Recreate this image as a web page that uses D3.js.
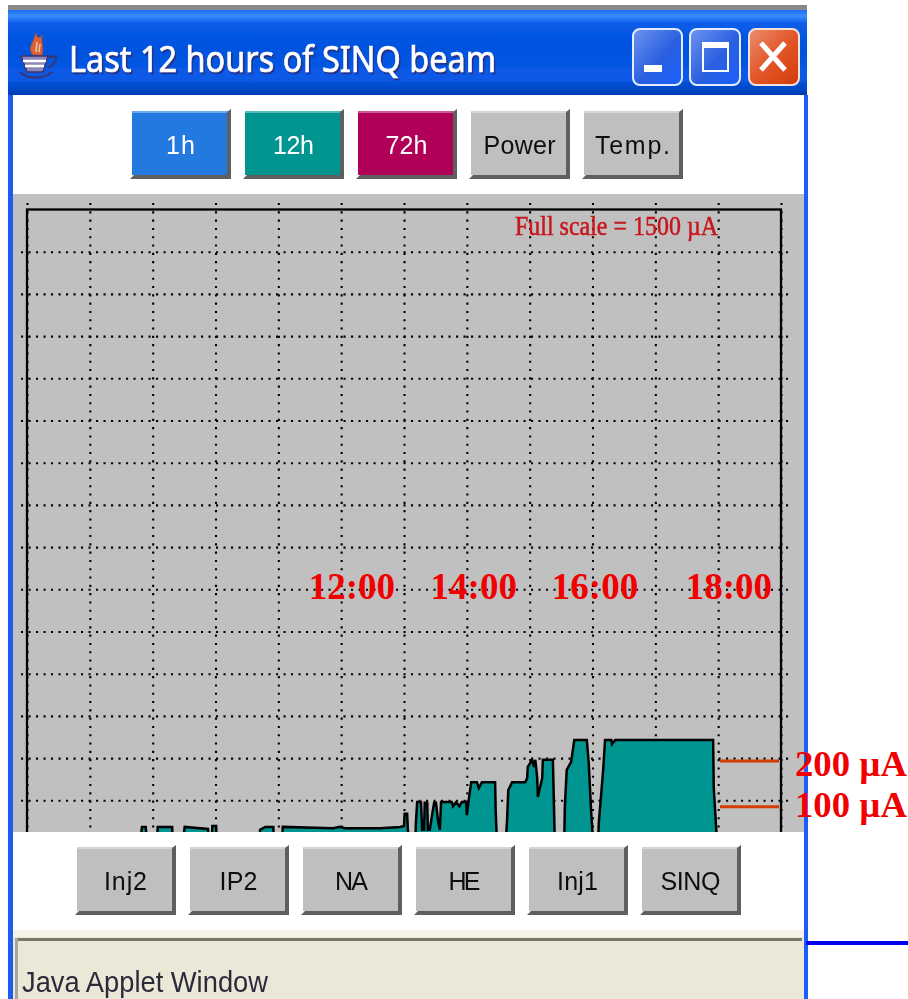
<!DOCTYPE html>
<html>
<head>
<meta charset="utf-8">
<script src="https://cdn.jsdelivr.net/npm/d3@7/dist/d3.min.js"></script>
<style>
html,body{margin:0;padding:0;background:#fff;overflow:hidden}
svg{display:block}
</style>
</head>
<body>
<svg id="c" width="908" height="999"></svg>
<script>
// ---- data ----
const topButtons = ["1h","12h","72h","Power","Temp."];
const topColours = ["#2179e0","#009590","#b00058","#bfbfbf","#bfbfbf"];
const topText = ["#fff","#fff","#fff","#111","#111"];
const topTextWidths = [29,41,42,72,75];
const bottomButtons = ["Inj2","IP2","NA","HE","Inj1","SINQ"];
const bottomTextWidths = [43,38,33,32,41,60];
const hourTicks = [0,1,2,3,4,5,6,7,8,9,10,11,12];
const currentTicks = [100,200,300,400,500,600,700,800,900,1000,1100,1200,1300,1400];
const timeLabels = ["12:00","14:00","16:00","18:00"];
const timeLabelHours = [5.17,7.11,9.04,11.17];
const refLabels = ["200 µA","100 µA"];
const refValues = [193,85];
const beamHours = [
 1.80,1.83,1.89,1.91,
 2.07,2.08,2.31,2.32,
 2.48,2.51,2.88,2.90,
 2.94,2.95,3.01,3.02,
 3.70,3.71,3.79,3.92,3.93,
 4.06,4.07,4.87,4.98,5.06,5.62,5.94,6.00,6.01,6.05,6.06,6.08,
 6.18,6.19,6.21,6.27,6.29,6.32,6.33,6.37,6.38,6.41,6.45,6.48,6.51,6.54,6.57,6.59,6.76,6.78,6.83,6.88,6.92,6.99,7.00,7.03,7.07,7.16,7.19,7.24,7.45,7.46,7.48,
 7.62,7.64,7.66,7.72,7.93,7.96,7.97,8.04,8.07,8.09,8.12,8.13,8.20,8.21,8.37,8.38,8.40,
 8.55,8.56,8.59,8.66,8.71,8.91,8.94,8.98,9.01,
 9.09,9.10,9.17,9.20,9.30,9.31,9.36,10.92,10.93,10.97,10.98];
const beamMicroA = [
 0,37,37,0,
 0,37,37,0,
 0,37,32,0,
 0,39,39,0,
 0,30,37,37,0,
 0,37,34,37,34,34,37,39,68,68,34,0,
 0,49,96,96,30,30,94,94,30,30,68,94,94,53,30,96,96,86,96,86,96,96,65,101,143,143,129,143,143,72,0,
 0,53,124,143,143,153,179,196,179,196,153,108,153,196,196,129,0,
 0,86,172,191,243,243,188,70,0,
 0,46,172,243,243,233,243,243,129,30,0];

const svg = d3.select("#c");
const defs = svg.append("defs");
const soft = defs.append("filter").attr("id","soft").attr("filterUnits","userSpaceOnUse")
  .attr("x",0).attr("y",0).attr("width",908).attr("height",999);
soft.append("feGaussianBlur").attr("stdDeviation",0.75);
const tb = defs.append("linearGradient").attr("id","tb").attr("x1",0).attr("y1",0).attr("x2",0).attr("y2",1);
[[0,"#1a6cf0"],[0.07,"#3a8dff"],[0.16,"#0a5ce8"],[0.45,"#0052de"],[0.8,"#0a5ae6"],[0.94,"#0046c4"],[1,"#003cb0"]]
  .forEach(s=>tb.append("stop").attr("offset",s[0]).attr("stop-color",s[1]));
const blueBtn = defs.append("linearGradient").attr("id","bb").attr("x1",0).attr("y1",0).attr("x2",1).attr("y2",1);
blueBtn.append("stop").attr("offset",0).attr("stop-color","#6f95f0");
blueBtn.append("stop").attr("offset",0.55).attr("stop-color","#2a5fe0");
blueBtn.append("stop").attr("offset",1).attr("stop-color","#1a62ff");
const redBtn = defs.append("linearGradient").attr("id","rb").attr("x1",0).attr("y1",0).attr("x2",1).attr("y2",1);
redBtn.append("stop").attr("offset",0).attr("stop-color","#ea8f70");
redBtn.append("stop").attr("offset",0.5).attr("stop-color","#e2562a");
redBtn.append("stop").attr("offset",1).attr("stop-color","#d23c08");
defs.append("clipPath").attr("id","plotClip").append("rect").attr("x",13).attr("y",194).attr("width",791).attr("height",638);

const win = svg.append("g").attr("filter","url(#soft)");

// window body
win.append("rect").attr("x",8).attr("y",5).attr("width",799).attr("height",8).attr("fill","#8a8a8a");
win.append("rect").attr("x",8).attr("y",10).attr("width",799).attr("height",85).attr("fill","url(#tb)");
win.append("rect").attr("x",8).attr("y",95).attr("width",5).attr("height",904).attr("fill","#1a5cf0");
win.append("rect").attr("x",804).attr("y",95).attr("width",4).attr("height",904).attr("fill","#1a5cff");
win.append("rect").attr("x",13).attr("y",95).attr("width",791).attr("height",842).attr("fill","#fff");
win.append("rect").attr("x",13).attr("y",194).attr("width",791).attr("height",638).attr("fill","#c0c0c0");

// plot
const x = d3.scaleLinear().domain([0,12]).range([27,781]);
const y = d3.scaleLinear().domain([0,1500]).range([842.5,209.5]);
const plot = win.append("g").attr("clip-path","url(#plotClip)");

const vGrid = plot.append("g").attr("transform","translate(0,203)")
  .call(d3.axisBottom(x).tickValues(hourTicks).tickSize(640).tickFormat(""));
const hGrid = plot.append("g").attr("transform","translate(21,0)")
  .call(d3.axisRight(y).tickValues(currentTicks).tickSize(771).tickFormat(""));
[vGrid,hGrid].forEach(g=>{
  g.select(".domain").remove();
  g.selectAll(".tick line").attr("stroke","#000").attr("stroke-width",2.1);
});
vGrid.selectAll(".tick line").attr("stroke-dasharray","2.1 6.2");
hGrid.selectAll(".tick line").attr("stroke-dasharray","2.1 5.4");

plot.append("rect").attr("x",x(0)).attr("y",y(1500)).attr("width",x(12)-x(0)).attr("height",700)
  .attr("fill","none").attr("stroke","#000").attr("stroke-width",2.3);

const area = d3.area().x((d,i)=>x(beamHours[i])).y0(y(0)).y1(d=>y(d));
plot.append("path").datum(beamMicroA).attr("d",area)
  .attr("fill","#009590").attr("stroke","#000").attr("stroke-width",2.5).attr("stroke-linejoin","miter");

win.append("text").attr("x",515).attr("y",235).attr("textLength",203).attr("lengthAdjust","spacingAndGlyphs")
  .attr("font-family","Liberation Serif").attr("font-size",27).attr("fill","#c8141c")
  .attr("stroke","#c8141c").attr("stroke-width",0.5).text("Full scale = 1500 µA");

// buttons: flat face, dark bevel on the right and bottom only
function button(g,x0,y0,label,fill,col,tw){
  const w=99,h=68;
  g.append("rect").attr("x",x0).attr("y",y0).attr("width",w-3).attr("height",h-4).attr("fill",fill);
  g.append("rect").attr("x",x0).attr("y",y0).attr("width",w-3).attr("height",2).attr("fill","#fff").attr("opacity",0.35);
  g.append("path").attr("d",`M${x0-2} ${y0+h}L${x0+2} ${y0+h-4}H${x0+w-4}V${y0+1}L${x0+w} ${y0-2}V${y0+h}Z`).attr("fill","#5e5e5e");
  g.append("text").attr("x",x0+w/2-1-tw/2).attr("y",y0+43)
    .attr("textLength",tw).attr("lengthAdjust","spacing")
    .attr("font-family","Liberation Sans").attr("font-size",25).attr("fill",col).text(label);
}
const topBand = d3.scalePoint().domain(topButtons).range([132,584]);
topButtons.forEach((b,i)=>button(win,topBand(b),111,b,topColours[i],topText[i],topTextWidths[i]));
const botBand = d3.scalePoint().domain(bottomButtons).range([77,642]);
bottomButtons.forEach((b,i)=>button(win,botBand(b),847,b,"#bfbfbf","#111",bottomTextWidths[i]));

// status bar
win.append("rect").attr("x",13).attr("y",930).attr("width",791).attr("height",8).attr("fill","#f6f4ea");
win.append("rect").attr("x",13).attr("y",937).attr("width",791).attr("height",62).attr("fill","#ebe8d8");
win.append("rect").attr("x",15).attr("y",938).attr("width",787).attr("height",3).attr("fill","#79766a");
win.append("rect").attr("x",15).attr("y",938).attr("width",3).attr("height",61).attr("fill","#a8a698");
win.append("text").attr("x",22).attr("y",992).attr("textLength",246).attr("lengthAdjust","spacingAndGlyphs")
  .attr("font-family","Liberation Sans").attr("font-size",30).attr("fill","#2a2a3a").text("Java Applet Window");

// title bar
const titleText = "Last 12 hours of SINQ beam";
[["#26348a","translate(1.5,1.5)"],["#fff",null]].forEach(s=>{
  win.append("text").attr("x",69).attr("y",72).attr("textLength",427).attr("lengthAdjust","spacingAndGlyphs")
    .attr("font-family","Noto Sans").attr("font-size",37).attr("fill",s[0])
    .attr("stroke",s[0]).attr("stroke-width",0.7).attr("transform",s[1]).text(titleText);
});

// window controls
const ctl = win.append("g");
ctl.append("rect").attr("x",633).attr("y",29).attr("width",49).attr("height",56).attr("rx",7).attr("fill","url(#bb)").attr("stroke","#e4ecff").attr("stroke-width",2);
ctl.append("rect").attr("x",644).attr("y",65).attr("width",18).attr("height",7).attr("fill","#fff");
ctl.append("rect").attr("x",690).attr("y",29).attr("width",50).attr("height",56).attr("rx",7).attr("fill","url(#bb)").attr("stroke","#e4ecff").attr("stroke-width",2);
ctl.append("rect").attr("x",703).attr("y",43).attr("width",25).attr("height",28).attr("fill","none").attr("stroke","#fff").attr("stroke-width",2);
ctl.append("rect").attr("x",703).attr("y",42).attr("width",25).attr("height",6).attr("fill","#fff");
ctl.append("rect").attr("x",749).attr("y",29).attr("width",50).attr("height",56).attr("rx",7).attr("fill","url(#rb)").attr("stroke","#f2e2dc").attr("stroke-width",2);
ctl.append("path").attr("d","M761 43L785 70M785 43L761 70").attr("stroke","#fff").attr("stroke-width",5);

// coffee cup icon
const ic = win.append("g");
ic.append("path").attr("d","M33 55C27 48 33 44 36 33C37 40 41 38 42 35C41 42 44 46 42 55Z").attr("fill","#d9623a").attr("stroke","#a8503a");
ic.append("path").attr("d","M36 52L37 42M39 52L40 44").attr("stroke","#f3c6a0").attr("stroke-width",1.5);
ic.append("path").attr("d","M21 56H48L43 72H27Z").attr("fill","#8d86b8").attr("stroke","#3a3470").attr("stroke-width",1.5);
ic.append("path").attr("d","M23 61H46M25 66H44").attr("stroke","#fff").attr("stroke-width",2.5);
ic.append("path").attr("d","M48 58C58 53 60 60 48 68").attr("fill","none").attr("stroke","#3a3470").attr("stroke-width",2);
ic.append("path").attr("d","M20 72C28 80 44 79 52 72").attr("fill","none").attr("stroke","#3a3470").attr("stroke-width",2);

// crisp overlay annotations
const over = svg.append("g");
over.append("rect").attr("x",806).attr("y",941).attr("width",102).attr("height",4).attr("fill","#0000ee");
over.selectAll("line.ref").data(refValues).join("line").attr("class","ref")
  .attr("x1",720).attr("x2",779).attr("y1",d=>y(d)).attr("y2",d=>y(d))
  .attr("stroke","#d43c00").attr("stroke-width",3);
over.selectAll("text.ref").data(refLabels).join("text").attr("class","ref")
  .attr("x",795).attr("y",(d,i)=>i===0?776:817).attr("textLength",112).attr("lengthAdjust","spacingAndGlyphs")
  .attr("font-family","Liberation Serif").attr("font-weight","bold").attr("font-size",36).attr("fill","#f00000").text(d=>d);
over.selectAll("text.time").data(timeLabels).join("text").attr("class","time")
  .attr("x",(d,i)=>x(timeLabelHours[i])).attr("y",599).attr("text-anchor","middle")
  .attr("font-family","Liberation Serif").attr("font-weight","bold").attr("font-size",37).attr("fill","#f00000").text(d=>d);
</script>
</body>
</html>
